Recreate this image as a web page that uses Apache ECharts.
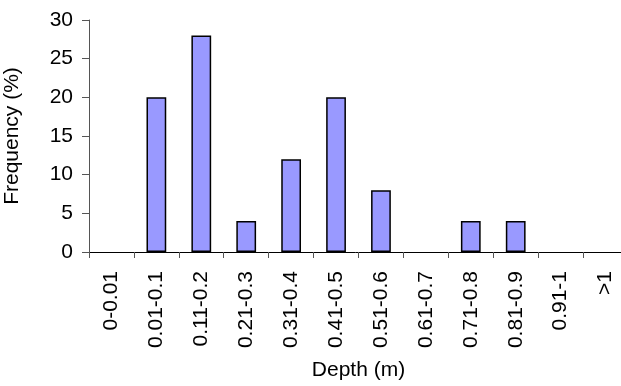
<!DOCTYPE html>
<html>
<head>
<meta charset="utf-8">
<script src="https://cdn.jsdelivr.net/npm/echarts@6/dist/echarts.min.js"></script>
<style>
  html, body { margin: 0; padding: 0; background: #fff; }
  #main { width: 621px; height: 386px; }
</style>
</head>
<body>
<div id="main"></div>
<script>
// 深度区间 (m)
const depthClasses = ['0-0.01', '0.01-0.1', '0.11-0.2', '0.21-0.3', '0.31-0.4', '0.41-0.5',
  '0.51-0.6', '0.61-0.7', '0.71-0.8', '0.81-0.9', '0.91-1', '>1']
// 频率 (%)
const frequency = [0, 20, 28, 4, 12, 20, 8, 0, 4, 4, 0, 0]

const dom = document.getElementById('main')
const myChart = echarts.init(dom)

const font = 'Liberation Sans, Arial, sans-serif'

const option = {
  animation: false,
  backgroundColor: '#fff',
  textStyle: { fontFamily: font },
  grid: {
    left: 89,
    top: 20,
    width: 539,
    height: 232,
    outerBoundsMode: 'none',
    containLabel: false
  },
  xAxis: {
    type: 'category',
    data: depthClasses,
    name: 'Depth (m)',
    nameLocation: 'middle',
    nameGap: 108,
    nameTextStyle: { color: '#000', fontSize: 21, fontFamily: font },
    axisLine: { lineStyle: { color: '#000', width: 1 } },
    axisTick: { show: true, length: 6, lineStyle: { color: '#555' } },
    axisLabel: {
      rotate: 90,
      margin: 19,
      color: '#000',
      fontSize: 21,
      fontFamily: font
    }
  },
  yAxis: {
    type: 'value',
    min: 0,
    max: 30,
    interval: 5,
    name: 'Frequency (%)',
    nameLocation: 'middle',
    nameGap: 66,
    nameRotate: 90,
    nameTextStyle: { color: '#000', fontSize: 21, fontFamily: font },
    axisLine: { show: true, lineStyle: { color: '#555', width: 1 } },
    axisTick: { show: true, length: 7, lineStyle: { color: '#555' } },
    axisLabel: { margin: 16, color: '#000', fontSize: 21, fontFamily: font },
    splitLine: { show: false }
  },
  series: [
    {
      type: 'bar',
      // 零值不画柱
      data: frequency.map(v => (v === 0 ? '-' : v)),
      barWidth: '44%',
      itemStyle: {
        color: '#9999ff',
        borderColor: '#000',
        borderWidth: 1.5
      }
    }
  ]
}

myChart.setOption(option)
</script>
</body>
</html>
